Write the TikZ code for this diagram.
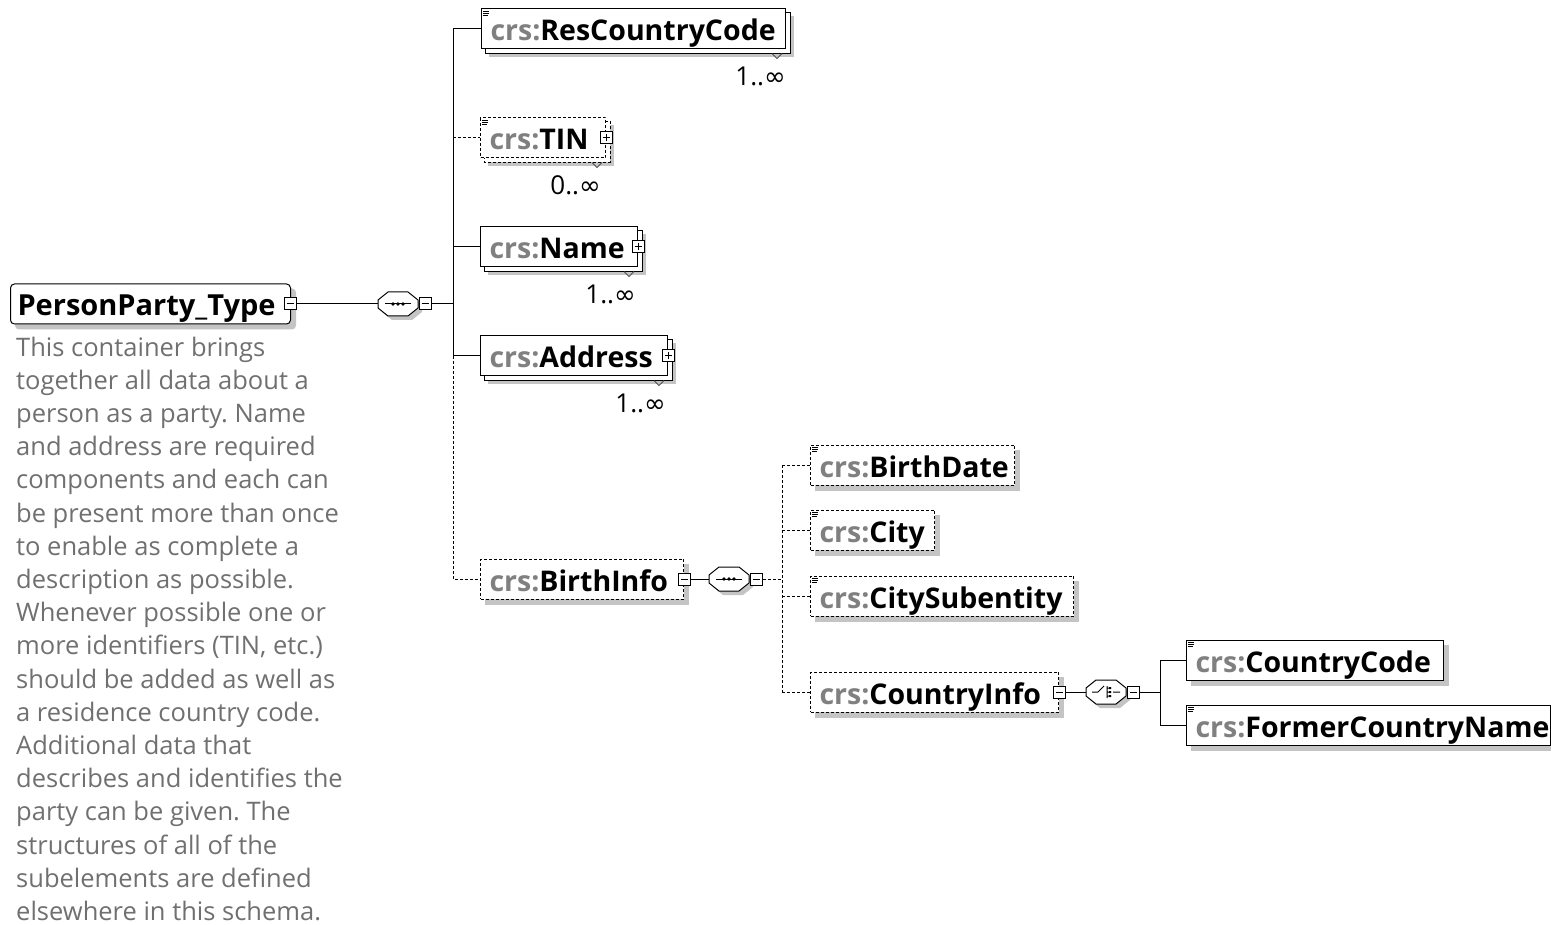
\documentclass[tikz,border=0pt]{standalone}
\usepackage{fontspec}
\setmainfont{Open Sans}
\newfontfamily\symfont{DejaVu Sans}
\usetikzlibrary{backgrounds}
\frenchspacing
\definecolor{crsgray}{HTML}{808080}
\definecolor{descgray}{HTML}{707070}
\definecolor{shadowgray}{HTML}{C4C4C4}
\newcommand{\elemtext}[2]{\makebox[#1pt][l]{\textcolor{crsgray}{crs:}#2}}
\newcommand{\infsym}{{\symfont ∞}}
\newcommand{\dropshade}[2]{\fill[shadowgray] ([shift={(#2,#2)}]#1.north west) rectangle ([shift={(#2,#2)}]#1.south east);}
\newcommand{\backcopy}[3]{\draw[fill=white, line width=1pt, #3] ([shift={(#2,#2)}]#1.north west) rectangle ([shift={(#2,#2)}]#1.south east);}
\newcommand{\docicon}[1]{\draw[line width=0.8pt] ([shift={(2,3)}]#1.north west) -- ++(6,0) ([shift={(2,5)}]#1.north west) -- ++(6,0) ([shift={(2,7)}]#1.north west) -- ++(5,0);}
\newcommand{\notchmark}[1]{\draw[line width=0.8pt, black!70] ([shift={(-14,4)}]#1.south east) -- ++(5,5) -- ++(5,-5);}
\newcommand{\compbody}[2]{%
  \fill[shadowgray, shift={(#1+4,#2+4)}] (-20,-4) -- (-10,-12) -- (10,-12) -- (20,-4) -- (20,4) -- (10,12) -- (-10,12) -- (-20,4) -- cycle;
  \draw[fill=white, line width=1pt, shift={(#1,#2)}] (-20,-4) -- (-10,-12) -- (10,-12) -- (20,-4) -- (20,4) -- (10,12) -- (-10,12) -- (-20,4) -- cycle;}
\newcommand{\seqicon}[2]{%
  \draw[line width=1pt, shift={(#1,#2)}] (-13,0) -- (13,0);
  \fill[shift={(#1,#2)}] (-5,0) circle (1.8pt) (0,0) circle (1.8pt) (5,0) circle (1.8pt);}
\newcommand{\choiceicon}[2]{%
  \draw[line width=1pt, shift={(#1,#2)}] (-14,0) -- (-8,0) -- (-2,-6) (1,-6) -- (1,6) (1,-4) -- (5,-4) (1,0) -- (5,0) (1,4) -- (5,4) (7,0) -- (14,0);
  \fill[shift={(#1,#2)}] (3,-5) rectangle (5,-3) (3,-1) rectangle (5,1) (3,3) rectangle (5,5);}
\tikzset{
  elem/.style={draw, fill=white, line width=1pt, anchor=west, minimum height=40pt, inner xsep=9pt, inner ysep=0pt, text height=27pt, text depth=3pt, font=\fontsize{28.5}{32}\selectfont\bfseries},
  optbox/.style={dash pattern=on 3pt off 2pt},
  opt/.style={dash pattern=on 3pt off 2pt},
  conn/.style={line width=1pt},
  rootbox/.style={draw, fill=white, line width=1pt, anchor=west, minimum height=40pt, inner xsep=7pt, inner ysep=0pt, text height=27pt, text depth=3pt, rounded corners=4pt, font=\fontsize{29}{32}\selectfont\bfseries},
  desc/.style={anchor=north west, align=left, inner sep=0pt, font=\fontsize{25.5}{33.2}\selectfont, text=descgray},
  pmbox/.style={draw, fill=white, line width=1pt, minimum size=12pt, inner sep=0pt},
  minusbox/.style={pmbox, path picture={\draw[line width=1pt] ([xshift=2.5pt]path picture bounding box.west) -- ([xshift=-2.5pt]path picture bounding box.east);}},
  plusbox/.style={pmbox, path picture={\draw[line width=1pt] ([xshift=2.5pt]path picture bounding box.west) -- ([xshift=-2.5pt]path picture bounding box.east) ([yshift=-2.5pt]path picture bounding box.north) -- ([yshift=2.5pt]path picture bounding box.south);}},
  mult/.style={font=\fontsize{26}{28}\selectfont, anchor=east, inner sep=0pt},
  comp/.style={minimum width=40pt, minimum height=24pt, inner sep=0pt},
}
\begin{document}
\begin{tikzpicture}[x=1pt,y=-1pt]
\useasboundingbox (0,0) rectangle (1551,925);
\begin{scope}[on background layer]
\fill[white] (0,0) rectangle (1551,925);
\end{scope}

% root
\node[rootbox] (root) at (10,304) {\makebox[266pt][l]{PersonParty\_Type}};
\begin{scope}[on background layer]
\fill[shadowgray, rounded corners=4pt] ([shift={(5,5)}]root.north west) rectangle ([shift={(5,5)}]root.south east);
\end{scope}
\node[minusbox] (rootm) at ([xshift=-1pt]root.east) {};
\node[desc] (desc) at (16,336.5) {This container brings\\together all data about a\\person as a party. Name\\and address are required\\components and each can\\be present more than once\\to enable as complete a\\description as possible.\\Whenever possible one or\\more identifiers (TIN, etc.)\\should be added as well as\\a residence country code.\\Additional data that\\describes and identifies the\\party can be given. The\\structures of all of the\\subelements are defined\\elsewhere in this schema.};

% sequence 1
\node[comp] (seq1) at (398,304) {};
\compbody{398}{304}
\seqicon{398}{304}
\node[minusbox] (seq1m) at (425,304) {};
\coordinate (j1) at (453,304);
\draw[conn] (rootm.east) -- (seq1.west);
\draw[conn] (seq1m.east) -- (j1);

% ResCountryCode
\node[elem] (rcc) at (481,29) {\elemtext{286}{ResCountryCode}};
\begin{scope}[on background layer]
\dropshade{rcc}{8}
\backcopy{rcc}{4}{}
\end{scope}
\docicon{rcc}
\notchmark{rcc}
\node[mult] (rccmult) at ([shift={(0,27)}]rcc.south east) {1..\infsym};

% TIN
\node[elem, optbox] (tin) at (480,138) {\elemtext{107}{TIN}};
\begin{scope}[on background layer]
\dropshade{tin}{8}
\backcopy{tin}{4}{optbox}
\end{scope}
\docicon{tin}
\notchmark{tin}
\node[plusbox] (tinp) at (tin.east) {};
\node[mult] (tinmult) at ([shift={(-5,27)}]tin.south east) {0..\infsym};

% Name
\node[elem] (name) at (480,247) {\elemtext{139}{Name}};
\begin{scope}[on background layer]
\dropshade{name}{8}
\backcopy{name}{4}{}
\end{scope}
\notchmark{name}
\node[plusbox] (namep) at (name.east) {};
\node[mult] (namemult) at ([shift={(-2,27)}]name.south east) {1..\infsym};

% Address
\node[elem] (addr) at (480,356) {\elemtext{169}{Address}};
\begin{scope}[on background layer]
\dropshade{addr}{8}
\backcopy{addr}{4}{}
\end{scope}
\notchmark{addr}
\node[plusbox] (addrp) at (addr.east) {};
\node[mult] (addrmult) at ([shift={(-2,27)}]addr.south east) {1..\infsym};

% BirthInfo
\node[elem, optbox] (birth) at (480,579) {\elemtext{185}{BirthInfo}};
\begin{scope}[on background layer]
\dropshade{birth}{5}
\end{scope}
\node[minusbox] (birthm) at (birth.east) {};

% trunk 1
\draw[conn] (j1|-rcc.west) -- (rcc.west);
\draw[conn,opt] (j1|-tin.west) -- (tin.west);
\draw[conn] (j1|-name.west) -- (name.west);
\draw[conn] (j1|-addr.west) -- (addr.west);
\draw[conn] (j1|-rcc.west) -- (j1|-addr.west);
\draw[conn,opt] (j1|-addr.west) -- (j1|-birth.west) -- (birth.west);

% sequence 2
\node[comp] (seq2) at (729,579) {};
\compbody{729}{579}
\seqicon{729}{579}
\node[minusbox] (seq2m) at (756,579) {};
\coordinate (j2) at (782,579);
\draw[conn] (birthm.east) -- (seq2.west);
\draw[conn,opt] (seq2m.east) -- (j2);

% BirthInfo children
\node[elem, optbox] (bdate) at (810,465) {\elemtext{186}{BirthDate}};
\node[elem, optbox] (city) at (810,530) {\elemtext{106}{City}};
\node[elem, optbox] (csub) at (810,596) {\elemtext{245}{CitySubentity}};
\node[elem, optbox] (cinfo) at (810,692) {\elemtext{230}{CountryInfo}};
\begin{scope}[on background layer]
\dropshade{bdate}{5}
\dropshade{city}{5}
\dropshade{csub}{5}
\dropshade{cinfo}{5}
\end{scope}
\docicon{bdate}
\docicon{city}
\docicon{csub}
\node[minusbox] (cinfom) at (cinfo.east) {};
\draw[conn,opt] (j2|-bdate.west) -- (j2|-cinfo.west);
\draw[conn,opt] (j2|-bdate.west) -- (bdate.west);
\draw[conn,opt] (j2|-city.west) -- (city.west);
\draw[conn,opt] (j2|-csub.west) -- (csub.west);
\draw[conn,opt] (j2|-cinfo.west) -- (cinfo.west);

% choice
\node[comp] (choice) at (1106,692) {};
\compbody{1106}{692}
\choiceicon{1106}{692}
\node[minusbox] (choicem) at (1133,692) {};
\coordinate (j3) at (1160,692);
\draw[conn] (cinfom.east) -- (choice.west);
\draw[conn] (choicem.east) -- (j3);

% CountryInfo children
\node[elem] (ccode) at (1186,660) {\elemtext{239}{CountryCode}};
\node[elem] (fcn) at (1186,725) {\elemtext{346}{FormerCountryName}};
\begin{scope}[on background layer]
\dropshade{ccode}{5}
\dropshade{fcn}{5}
\end{scope}
\docicon{ccode}
\docicon{fcn}
\draw[conn] (j3|-ccode.west) -- (j3|-fcn.west);
\draw[conn] (j3|-ccode.west) -- (ccode.west);
\draw[conn] (j3|-fcn.west) -- (fcn.west);
\end{tikzpicture}
\end{document}
